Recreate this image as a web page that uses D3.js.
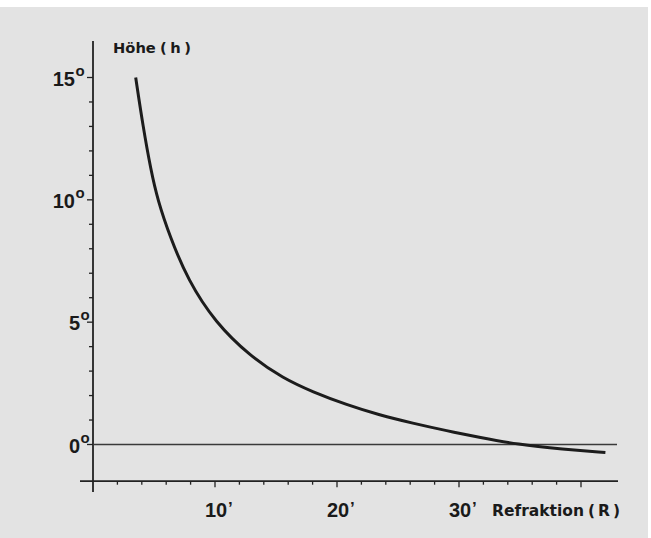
<!DOCTYPE html>
<html>
<head>
<meta charset="utf-8">
<script src="https://cdn.jsdelivr.net/npm/d3@7"></script>
<style>
  body { margin: 0; background: #fff; }
  text { fill: #1a1a1a; }
  .num { font-family: "Liberation Sans", Arial, sans-serif; font-weight: 700; }
  .lab { font-family: "DejaVu Sans", sans-serif; font-weight: 700; }
</style>
</head>
<body>
<script>
// Refraktion (Bogenminuten) gegen Höhe (Grad)
var refraction = [3.5, 4.1, 4.75, 5.3, 6.3, 7.8, 10.0, 12.9, 15.6, 18.0, 20.8, 23.5, 26.2, 29.0, 31.7, 34.8, 38.5, 42.0];
var altitude   = [15.0, 13.0, 11.2, 10.0, 8.5, 6.7, 5.0, 3.6, 2.7, 2.15, 1.62, 1.2, 0.87, 0.56, 0.29, 0.0, -0.19, -0.33];

var yLabels = [0, 5, 10, 15];
var yTicks = d3.range(0, 16, 1);
var xLabels = [10, 20, 30];
var xTicks = d3.range(2, 41, 2);

var width = 651, height = 538;

var svg = d3.select("body").append("svg")
  .attr("width", width)
  .attr("height", height);

// grauer Hintergrund
svg.append("rect")
  .attr("x", 0).attr("y", 7)
  .attr("width", 648).attr("height", height - 7)
  .attr("fill", "#e3e3e3");

var x = d3.scaleLinear()
  .domain([0, 40])
  .range([93, 581]);

var y = d3.scaleLinear()
  .domain([0, 15])
  .range([444.5, 77.5]);

var axisColor = "#222";

// y-Achse
svg.append("line")
  .attr("x1", x(0)).attr("x2", x(0))
  .attr("y1", 41).attr("y2", 492)
  .attr("stroke", axisColor).attr("stroke-width", 1.8);

svg.selectAll(".ytick").data(yTicks).enter()
  .append("line")
  .attr("class", "ytick")
  .attr("x1", d => x(0) - (d % 5 == 0 ? 6 : 4))
  .attr("x2", x(0))
  .attr("y1", d => y(d)).attr("y2", d => y(d))
  .attr("stroke", axisColor).attr("stroke-width", 1.3);

// x-Achse (bei -1.5 Grad)
svg.append("line")
  .attr("x1", 80).attr("x2", 618)
  .attr("y1", y(-1.5)).attr("y2", y(-1.5))
  .attr("stroke", axisColor).attr("stroke-width", 1.8);

svg.selectAll(".xtick").data(xTicks).enter()
  .append("line")
  .attr("class", "xtick")
  .attr("x1", d => x(d)).attr("x2", d => x(d))
  .attr("y1", y(-1.5))
  .attr("y2", d => y(-1.5) + (d % 10 == 0 ? 6 : 3.5))
  .attr("stroke", axisColor).attr("stroke-width", 1.3);

// Nulllinie
svg.append("line")
  .attr("x1", x(0)).attr("x2", 617)
  .attr("y1", y(0)).attr("y2", y(0))
  .attr("stroke", "#3a3a3a").attr("stroke-width", 1.3);

// Kurve
var pts = refraction.map((r, i) => ({R: r, h: altitude[i]}));

var line = d3.line()
  .curve(d3.curveBasis)
  .x(d => x(d.R))
  .y(d => y(d.h));

svg.append("path")
  .datum(pts)
  .attr("d", line)
  .attr("fill", "none")
  .attr("stroke", "#1c1c1c")
  .attr("stroke-width", 3);

// y-Beschriftung
var yl = svg.selectAll(".ylab").data(yLabels).enter().append("g").attr("class", "ylab");
yl.append("text")
  .attr("class", "num")
  .attr("x", d => d >= 10 ? 75 : 80)
  .attr("y", d => y(d) + 8)
  .attr("text-anchor", "end")
  .style("font-size", "20px")
  .text(d => d);
yl.append("text")
  .attr("class", "num")
  .attr("x", d => d >= 10 ? 75.5 : 80.5)
  .attr("y", d => y(d) - 2)
  .style("font-size", "15px")
  .text("o");

// x-Beschriftung
var xl = svg.selectAll(".xlab").data(xLabels).enter().append("g").attr("class", "xlab");
xl.append("text")
  .attr("class", "num")
  .attr("x", d => x(d) + 1)
  .attr("y", 517)
  .attr("text-anchor", "middle")
  .style("font-size", "20px")
  .text(d => d);
xl.append("text")
  .attr("class", "num")
  .attr("x", d => x(d) + 13)
  .attr("y", 514)
  .style("font-size", "17px")
  .text("’");

// Achsentitel
svg.append("text")
  .attr("class", "lab")
  .attr("x", 113).attr("y", 53)
  .style("font-size", "14.7px")
  .text("Höhe");
var th = svg.append("text")
  .attr("class", "lab")
  .attr("x", 160).attr("y", 53)
  .style("font-size", "14.7px");
th.append("tspan").text("(");
th.append("tspan").attr("dx", 3.5).text("h");
th.append("tspan").attr("dx", 3.5).text(")");

svg.append("text")
  .attr("class", "lab")
  .attr("x", 492).attr("y", 516)
  .style("font-size", "15.5px")
  .text("Refraktion");
var tr = svg.append("text")
  .attr("class", "lab")
  .attr("x", 588).attr("y", 516)
  .style("font-size", "15.5px");
tr.append("tspan").text("(");
tr.append("tspan").attr("dx", 3).text("R");
tr.append("tspan").attr("dx", 3).text(")");
</script>
</body>
</html>
